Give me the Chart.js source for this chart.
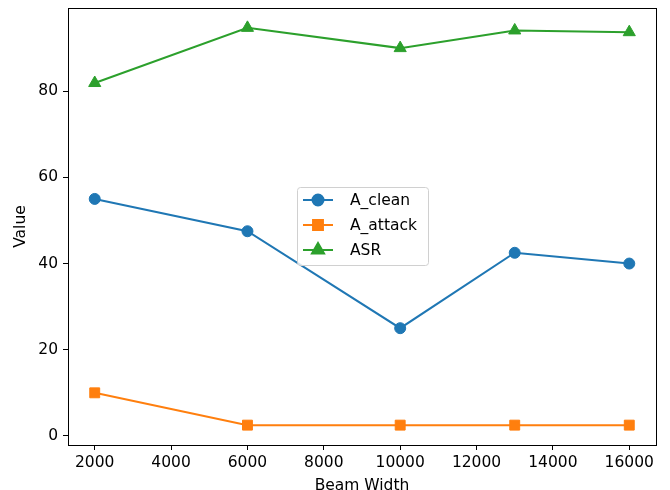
<!DOCTYPE html>
<html>
<head>
<meta charset="utf-8">
<script src="https://cdn.jsdelivr.net/npm/chart.js@4/dist/chart.umd.min.js"></script>
<style>
  html, body { margin: 0; padding: 0; background: #fff; }
  #wrap { width: 670px; height: 490px; }
</style>
</head>
<body>
<div id="wrap"><canvas id="c" width="670" height="490"></canvas></div>
<script>
// Beam widths tested and the measured metrics
const beamWidths = [2000, 6000, 10000, 13000, 16000];
const aClean = [55.0, 47.5, 25.0, 42.5, 40.0];
const aAttack = [10.0, 2.5, 2.5, 2.5, 2.5];
const asr = [81.9, 94.7, 90.0, 94.1, 93.7];

const xTicks = [2000, 4000, 6000, 8000, 10000, 12000, 14000, 16000];
const yTicks = [0, 20, 40, 60, 80];

const FONT = "'DejaVu Sans', sans-serif";
const FSIZE = 15.5;

// 5% padding around the data, like a default plotting margin
function padded(values) {
  const lo = Math.min(...values), hi = Math.max(...values);
  const m = (hi - lo) * 0.05;
  return [lo - m, hi + m];
}
const [xMin, xMax] = padded(beamWidths);
const [yMin, yMax] = padded([...aClean, ...aAttack, ...asr]);

const pts = (ys) => beamWidths.map((x, i) => ({ x, y: ys[i] }));

// Frame around the plotting area
const framePlugin = {
  id: 'frame',
  afterDraw(chart) {
    const { ctx, chartArea: a } = chart;
    ctx.save();
    ctx.strokeStyle = '#000';
    ctx.lineWidth = 1;
    ctx.strokeRect(Math.round(a.left) + 0.5, Math.round(a.top) + 0.5,
      Math.round(a.right - a.left), Math.round(a.bottom - a.top));
    ctx.restore();
  }
};

// Legend box drawn inside the plot
const innerLegend = {
  id: 'innerLegend',
  afterDraw(chart) {
    const { ctx } = chart;
    const x0 = 297, y0 = 187, w = 131, h = 78, r = 3;
    ctx.save();
    ctx.beginPath();
    ctx.roundRect(x0 + 0.5, y0 + 0.5, w, h, r);
    ctx.fillStyle = 'rgba(255,255,255,0.8)';
    ctx.fill();
    ctx.strokeStyle = '#d0d0d0';
    ctx.lineWidth = 1;
    ctx.stroke();
    chart.data.datasets.forEach((ds, i) => {
      const cy = y0 + 13 + i * 25;
      ctx.strokeStyle = ds.borderColor;
      ctx.lineWidth = 2;
      ctx.beginPath();
      ctx.moveTo(303, cy);
      ctx.lineTo(333, cy);
      ctx.stroke();
      Chart.helpers.drawPoint(ctx, {
        pointStyle: ds.pointStyle,
        radius: ds.pointRadius,
        borderWidth: 1
      }, 318, cy);
      ctx.fillStyle = ds.backgroundColor;
      ctx.fill();
      ctx.fillStyle = '#000';
      ctx.font = FSIZE + 'px ' + FONT;
      ctx.textBaseline = 'middle';
      ctx.textAlign = 'left';
      ctx.fillText(ds.label, 350, cy + 1);
    });
    ctx.restore();
  }
};

// Drop the extra room the scales reserve for half-overhanging labels
const noScalePad = (s) => {
  s.paddingTop = 0; s.paddingBottom = 0; s.paddingLeft = 0; s.paddingRight = 0;
};

new Chart(document.getElementById('c'), {
  type: 'line',
  data: {
    datasets: [
      { label: 'A_clean', data: pts(aClean), borderColor: '#1f77b4', backgroundColor: '#1f77b4',
        pointStyle: 'circle', pointRadius: 5.5, borderWidth: 2, pointBorderWidth: 1 },
      { label: 'A_attack', data: pts(aAttack), borderColor: '#ff7f0e', backgroundColor: '#ff7f0e',
        pointStyle: 'rect', pointRadius: 7, borderWidth: 2, pointBorderWidth: 1 },
      { label: 'ASR', data: pts(asr), borderColor: '#2ca02c', backgroundColor: '#2ca02c',
        pointStyle: 'triangle', pointRadius: 7, borderWidth: 2, pointBorderWidth: 1 }
    ]
  },
  options: {
    responsive: false,
    animation: false,
    layout: { padding: { top: 8, right: 14, left: 0, bottom: 0 } },
    plugins: { legend: { display: false }, tooltip: { enabled: false } },
    scales: {
      x: {
        type: 'linear', min: xMin, max: xMax,
        afterBuildTicks: (s) => { s.ticks = xTicks.map(v => ({ value: v })); },
        afterFit: (s) => { s.height = 45; noScalePad(s); },
        grid: { drawOnChartArea: false, drawTicks: true, tickLength: 5, color: '#000' },
        border: { display: false },
        ticks: { color: '#000', font: { family: FONT, size: FSIZE }, padding: 4, maxRotation: 0,
          callback: (v) => String(v) },
        title: { display: true, text: 'Beam Width', color: '#000',
          font: { family: FONT, size: FSIZE }, padding: { top: 0, bottom: -5 } }
      },
      y: {
        type: 'linear', min: yMin, max: yMax,
        afterBuildTicks: (s) => { s.ticks = yTicks.map(v => ({ value: v })); },
        afterFit: (s) => { s.width = 68; noScalePad(s); },
        grid: { drawOnChartArea: false, drawTicks: true, tickLength: 5, color: '#000' },
        border: { display: false },
        ticks: { color: '#000', font: { family: FONT, size: FSIZE }, padding: 5,
          callback: (v) => String(v) },
        title: { display: true, text: 'Value', color: '#000',
          font: { family: FONT, size: FSIZE }, padding: { top: 12, bottom: 0 } }
      }
    }
  },
  plugins: [framePlugin, innerLegend]
});
</script>
</body>
</html>
